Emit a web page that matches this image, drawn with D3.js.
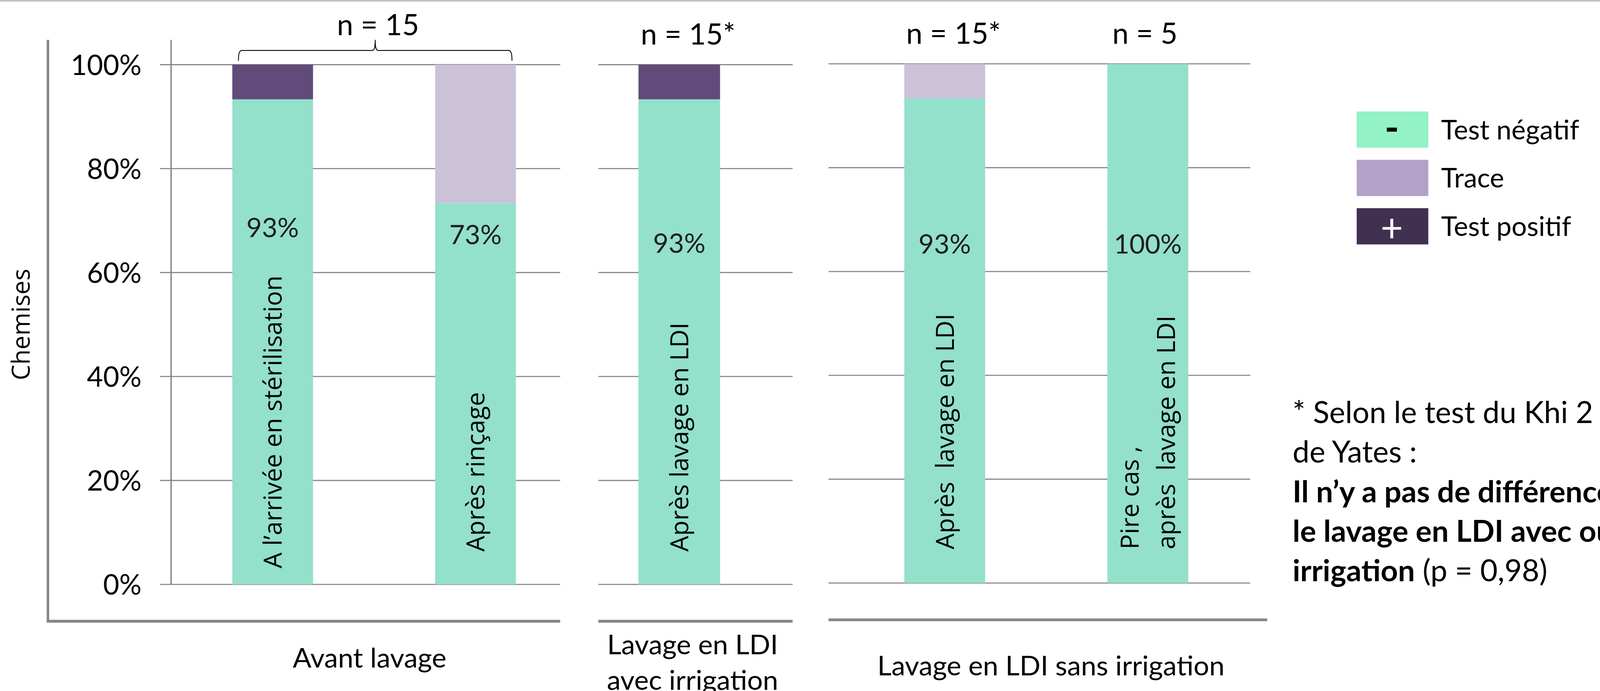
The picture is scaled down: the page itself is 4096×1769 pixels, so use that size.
<!DOCTYPE html>
<html><head><meta charset="utf-8">
<script src="https://cdn.jsdelivr.net/npm/d3@7/dist/d3.min.js"></script>
<style>html,body{margin:0;padding:0;background:#fff;overflow:hidden}</style>
</head><body>
<svg id="chart" width="4096" height="1769" xmlns="http://www.w3.org/2000/svg"></svg>
<script>
// ---------------- DATA ----------------
const panelTitles = [["Avant lavage"], ["Lavage en LDI", "avec irrigation"], ["Lavage en LDI sans irrigation"]];
const categories = ["A l’arrivée en stérilisation", "Après rinçage", "Après lavage en LDI", "Après  lavage en LDI", "Pire cas ,\naprès  lavage en LDI"];
const categoryPanel = [0, 0, 1, 2, 2];
const seriesKeys = ["negatif", "trace", "positif"];
const negatif = [0.9333, 0.7333, 0.9333, 0.9333, 1.0];
const trace   = [0.0,    0.2667, 0.0,    0.0667, 0.0];
const positif = [0.0667, 0.0,    0.0667, 0.0,    0.0];
const pctLabels = ["93%", "73%", "93%", "93%", "100%"];
const nLabels = ["n = 15", "n = 15*", "n = 15*", "n = 5"];
const nLabelBars = [[0, 1], [2], [3], [4]];
const yTicks = [0, 0.2, 0.4, 0.6, 0.8, 1.0];
const yTitle = "Chemises";
const legendLabels = ["Test négatif", "Trace", "Test positif"];
const legendSymbols = ["-", "", "+"];
const noteLines = [
  [["* Selon le test du Khi 2", false]],
  [["de Yates :", false]],
  [["Il n’y a pas de différence entre", true]],
  [["le lavage en LDI avec ou sans", true]],
  [["irrigation", true], [" (p = 0,98)", false]]
];

// ---------------- STYLE / LAYOUT (reference pixel units) ----------------
const S = 4096 / 5741;
const barColors = {negatif: "#93e0cb", trace: "#cbc2da", positif: "#604b7b"};
const legendColors = ["#93f2c6", "#b3a2c7", "#403152"];
const gridColor = "#868686";
const sansH = "Lato, 'Open Sans', sans-serif";
const sansR = "'Open Sans', 'DejaVu Sans', sans-serif";
const panelLayout = [
  {x0: 614,  x1: 2010, yTop: 232, yBot: 2097, gx0: 574,  bottomY: 2229, bx0: 168,  bx1: 2010, pi: 0.602, po: 0.26,  align: 0.58},
  {x0: 2147, x1: 2844, yTop: 232, yBot: 2097, gx0: 2147, bottomY: 2229, bx0: 2147, bx1: 2844, pi: 0.58,  po: 0.29,  align: 0.356},
  {x0: 2973, x1: 4486, yTop: 229, yBot: 2092, gx0: 2973, bottomY: 2224, bx0: 2973, bx1: 4547, pi: 0.602, po: 0.339, align: 0.55}
];
const titleX = [1326, 2485, 3771];
const titleY = [2395, 2347, 2424];
const pctLevels = [0.687, 0.673, 0.657, 0.653, 0.653];
const rotStartLevels = [0.031, 0.063, 0.063, 0.065, 0.065];

// ---------------- BUILD ----------------
const svg = d3.select("#chart");
const g = svg.append("g").attr("transform", `scale(${S})`);

// top border line
g.append("line").attr("x1", 0).attr("x2", 5741).attr("y1", 3).attr("y2", 3)
  .attr("stroke", "#c3c3c3").attr("stroke-width", 6);

const table = categories.map((c, i) => ({cat: c, negatif: negatif[i], trace: trace[i], positif: positif[i]}));
const stacked = d3.stack().keys(seriesKeys)(table);

const yScales = panelLayout.map(p => d3.scaleLinear().domain([0, 1]).range([p.yBot, p.yTop]));
const xScales = panelLayout.map((p, pi) => d3.scaleBand()
  .domain(categories.filter((c, i) => categoryPanel[i] === pi))
  .range([p.x0, p.x1]).paddingInner(p.pi).paddingOuter(p.po).align(p.align));

panelLayout.forEach((p, pi) => {
  const y = yScales[pi];
  const pg = g.append("g");
  // gridlines
  pg.selectAll("line.grid").data(yTicks).join("line")
    .attr("x1", p.gx0).attr("x2", p.x1)
    .attr("y1", d => y(d)).attr("y2", d => y(d))
    .attr("stroke", gridColor).attr("stroke-width", 4);
  // bottom border
  pg.append("line").attr("x1", p.bx0).attr("x2", p.bx1)
    .attr("y1", p.bottomY).attr("y2", p.bottomY)
    .attr("stroke", gridColor).attr("stroke-width", 10);
});

// panel 1 axis + frame
{
  const p = panelLayout[0], y = yScales[0];
  g.append("line").attr("x1", 172).attr("x2", 172).attr("y1", 143).attr("y2", p.bottomY + 5)
    .attr("stroke", gridColor).attr("stroke-width", 9);
  g.append("line").attr("x1", p.x0).attr("x2", p.x0).attr("y1", 143).attr("y2", p.yBot)
    .attr("stroke", gridColor).attr("stroke-width", 5);
  const axis = d3.axisLeft(y).tickValues(yTicks).tickFormat(d3.format(".0%")).tickSize(0).tickPadding(0);
  const ax = g.append("g").attr("transform", `translate(${p.x0 - 106},0)`).call(axis);
  ax.select(".domain").remove();
  ax.selectAll("text").attr("font-family", sansH).attr("font-size", 100).attr("fill", "#000").attr("dy", "0.36em");
  // y title
  g.append("text").attr("transform", `translate(107,${(p.yTop + p.yBot) / 2}) rotate(-90)`)
    .attr("text-anchor", "middle").attr("font-family", sansR).attr("font-size", 89).attr("fill", "#000")
    .text(yTitle);
}

// bars
const barG = g.append("g");
stacked.forEach(series => {
  series.forEach((d, i) => {
    const pi = categoryPanel[i];
    const x = xScales[pi], y = yScales[pi];
    if (d[1] - d[0] <= 0) return;
    barG.append("rect")
      .attr("x", x(categories[i])).attr("width", x.bandwidth())
      .attr("y", y(d[1])).attr("height", y(d[0]) - y(d[1]))
      .attr("fill", barColors[series.key]);
  });
});

// rotated category labels & percent labels
categories.forEach((c, i) => {
  const pi = categoryPanel[i];
  const x = xScales[pi], y = yScales[pi];
  const cx = x(c) + x.bandwidth() / 2;
  const lines = c.split("\n");
  const fs = 90;
  const t = g.append("text")
    .attr("transform", `translate(${cx},${y(rotStartLevels[i])}) rotate(-90)`)
    .attr("font-family", sansR).attr("font-size", fs).attr("fill", "#000")
    .attr("xml:space", "preserve").style("white-space", "pre");
  lines.forEach((ln, k) => {
    const off = 0.36 * fs - (lines.length - 1) / 2 * 1.44 * fs + k * 1.44 * fs;
    t.append("tspan").attr("x", 0).attr("y", off).text(ln);
  });
  g.append("text").attr("x", cx).attr("y", y(pctLevels[i])).attr("dy", "0.36em")
    .attr("text-anchor", "middle").attr("font-family", sansH).attr("font-size", 96).attr("fill", "#1e1e1e")
    .text(pctLabels[i]);
});

// n labels and brace
nLabels.forEach((lab, j) => {
  const bars = nLabelBars[j];
  const pi = categoryPanel[bars[0]];
  const x = xScales[pi], y = yScales[pi];
  if (bars.length > 1) {
    const xL = x(categories[bars[0]]) + 22;
    const xR = x(categories[bars[bars.length - 1]]) + x.bandwidth() - 14;
    const xm = (xL + xR) / 2;
    const yE = y(1) - 14, yH = y(1) - 51, yP = y(1) - 89;
    const path = d3.path();
    path.moveTo(xL, yE);
    path.bezierCurveTo(xL, yH + 14, xL + 2, yH, xL + 13, yH);
    path.lineTo(xm - 10, yH);
    path.bezierCurveTo(xm - 3, yH, xm, yH - 11, xm, yP);
    path.bezierCurveTo(xm, yH - 11, xm + 3, yH, xm + 10, yH);
    path.lineTo(xR - 13, yH);
    path.bezierCurveTo(xR - 2, yH, xR, yH + 14, xR, yE);
    g.append("path").attr("d", path.toString()).attr("fill", "none").attr("stroke", "#000").attr("stroke-width", 3);
    g.append("text").attr("x", xm + 10).attr("y", 126).attr("text-anchor", "middle")
      .attr("font-family", sansH).attr("font-size", 105).attr("fill", "#000").text(lab);
  } else {
    const cx = x(categories[bars[0]]) + x.bandwidth() / 2;
    const star = lab.endsWith("*");
    g.append("text").attr("x", cx).attr("dx", star ? "0.3em" : "-0.1em").attr("y", y(1) - 72)
      .attr("text-anchor", "middle")
      .attr("font-family", sansH).attr("font-size", 105).attr("fill", "#000").text(lab);
  }
});

// panel titles
panelTitles.forEach((lines, pi) => {
  const t = g.append("text").attr("text-anchor", "middle")
    .attr("font-family", sansH).attr("font-size", 99).attr("fill", "#000");
  lines.forEach((ln, k) => {
    t.append("tspan").attr("x", titleX[pi]).attr("y", titleY[pi] + k * 128).text(ln);
  });
});

// legend
const lg = g.append("g").attr("transform", "translate(4868,400)");
legendLabels.forEach((lab, i) => {
  const ry = i * 173.5;
  lg.append("rect").attr("x", 0).attr("y", ry).attr("width", 257).attr("height", 130).attr("fill", legendColors[i]);
  if (legendSymbols[i]) {
    const isPlus = legendSymbols[i] === "+";
    lg.append("text").attr("x", 126).attr("y", ry + 65 + (isPlus ? 10 : 3))
      .attr("dy", isPlus ? "0.33em" : "0.28em")
      .attr("text-anchor", "middle").attr("font-family", sansH)
      .attr("font-weight", isPlus ? 400 : 700).attr("font-size", 140)
      .attr("fill", isPlus ? "#fff" : "#000").text(legendSymbols[i]);
  }
  lg.append("text").attr("x", 303).attr("y", ry + 65).attr("dy", "0.36em")
    .attr("font-family", sansH).attr("font-size", 97).attr("fill", "#000").text(lab);
});

// footnote
noteLines.forEach((segs, k) => {
  const t = g.append("text").attr("x", 4638).attr("y", 1518 + k * 142)
    .attr("font-family", sansH).attr("font-size", 108).attr("fill", "#000")
    .attr("xml:space", "preserve").style("white-space", "pre");
  segs.forEach(([txt, bold]) => t.append("tspan").attr("font-weight", bold ? 700 : 400).text(txt));
});
</script>
</body></html>
